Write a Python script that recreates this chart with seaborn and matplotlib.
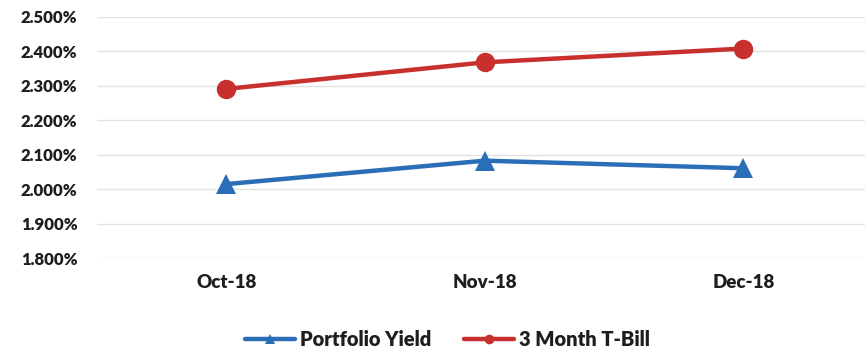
import matplotlib
matplotlib.use("Agg")
import matplotlib.pyplot as plt
import seaborn as sns
import pandas as pd
from matplotlib.ticker import FuncFormatter, MultipleLocator

months = ["Oct-18", "Nov-18", "Dec-18"]
portfolio_yield = [2.015, 2.083, 2.061]
tbill_3m = [2.291, 2.368, 2.408]

df = pd.DataFrame({
    "month": months * 2,
    "value": portfolio_yield + tbill_3m,
    "series": ["Portfolio Yield"] * 3 + ["3 Month T-Bill"] * 3,
})

sns.set_theme(style="white")
plt.rcParams["font.family"] = ["Lato", "DejaVu Sans"]

fig = plt.figure(figsize=(8.65, 3.5), dpi=100)
ax = fig.add_axes([0.112, 0.262, 0.897, 0.69])

palette = {"Portfolio Yield": "#2A6EB8", "3 Month T-Bill": "#C8302D"}
markers = {"Portfolio Yield": "^", "3 Month T-Bill": "o"}
sns.lineplot(data=df, x="month", y="value", hue="series", style="series",
             palette=palette, markers=markers, dashes=False, linewidth=3.2,
             markersize=14, markeredgewidth=0, ax=ax, sort=False)

ax.set_xlim(-0.5, 2.5)
ax.set_ylim(1.8, 2.5)
ax.yaxis.set_major_locator(MultipleLocator(0.1))
ax.yaxis.set_major_formatter(FuncFormatter(lambda v, p: f"{v:.3f}%"))
ax.grid(axis="y", color="#E2E2E2", linewidth=1)
ax.set_axisbelow(True)
for s in ax.spines.values():
    s.set_visible(False)
ax.set_xlabel("")
ax.set_ylabel("")
ax.tick_params(axis="y", length=0, labelsize=12, colors="#1E1E1E", pad=14)
ax.tick_params(axis="x", length=0, labelsize=13.5, colors="#1E1E1E", pad=11)
for t in ax.get_xticklabels() + ax.get_yticklabels():
    t.set_fontweight("heavy")

handles, labels = ax.get_legend_handles_labels()
for h in handles:
    h.set_markersize(7)
leg = ax.legend(handles, labels, loc="center", bbox_to_anchor=(0.452, -0.335),
                ncol=2, frameon=False, prop={"weight": "heavy", "size": 14.5},
                handlelength=2.5, columnspacing=1.6, handletextpad=0.25)
for t in leg.get_texts():
    t.set_color("#1E1E1E")

fig.savefig("out.png", dpi=100, facecolor="white")
